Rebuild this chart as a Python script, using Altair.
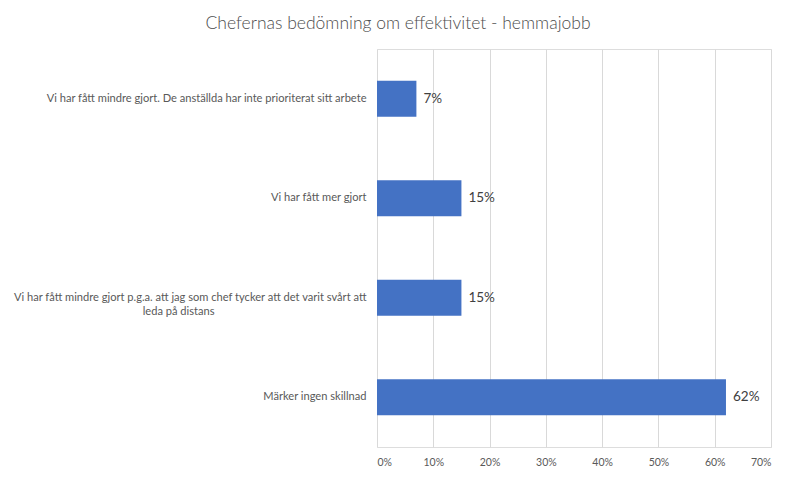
import altair as alt
import pandas as pd

categories = [
    "Vi har fått mindre gjort. De anställda har inte prioriterat sitt arbete",
    "Vi har fått mer gjort",
    "Vi har fått mindre gjort p.g.a. att jag som chef tycker att det varit svårt att leda på distans",
    "Märker ingen skillnad",
]
values = [0.07, 0.15, 0.15, 0.62]
value_labels = ["7%", "15%", "15%", "62%"]
tick_values = [0, 0.1, 0.2, 0.3, 0.4, 0.5, 0.6, 0.7]

df = pd.DataFrame({"cat": categories, "val": values, "lbl": value_labels})

FONT = "Lato"
PAD = "\u2800"
label_expr = (
    "datum.label == '" + categories[2] + "' ? "
    "['Vi har fått mindre gjort p.g.a. att jag som chef tycker att det varit svårt att', "
    "'leda på distans" + PAD * 19 + "'] : datum.label"
)

y_enc = alt.Y(
    "cat:N",
    sort=categories,
    title=None,
    scale=alt.Scale(paddingInner=0.64, paddingOuter=0.32),
    axis=alt.Axis(
        domain=False,
        ticks=False,
        grid=False,
        labelFont=FONT,
        labelFontSize=11.1,
        labelColor="#595959",
        labelPadding=11,
        labelLimit=420,
        labelExpr=label_expr,
        labelLineHeight=14,
    ),
)

bars = alt.Chart(df).mark_bar(color="#4472C4").encode(
    x=alt.X(
        "val:Q",
        title=None,
        scale=alt.Scale(domain=[0, 0.7], nice=False),
        axis=alt.Axis(
            values=tick_values,
            format=".0%",
            domain=False,
            ticks=False,
            gridColor="#d9d9d9",
            labelFont=FONT,
            labelFontSize=10.5,
            labelColor="#595959",
            labelPadding=10,
        ),
    ),
    y=y_enc,
)

text = alt.Chart(df).mark_text(
    align="left", dx=7, font=FONT, fontSize=13.5, color="#404040"
).encode(
    x="val:Q",
    y=alt.Y("cat:N", sort=categories),
    text="lbl:N",
)

chart = (
    alt.layer(bars, text)
    .properties(
        width=394,
        height=398,
        title=alt.TitleParams(
            "Chefernas bedömning om effektivitet - hemmajobb",
            font=FONT,
            fontSize=17.5,
            fontWeight=300,
            color="#4d4d4d",
            anchor="middle",
            dx=-176,
            offset=17,
        ),
        autosize=alt.AutoSizeParams(type="none"),
        padding={"left": 369, "top": 41, "right": 17, "bottom": 22},
    )
    .configure_view(stroke=None)
    .configure(background="white")
)

chart.save("out.html", embed_options={"renderer": "svg", "actions": False})
